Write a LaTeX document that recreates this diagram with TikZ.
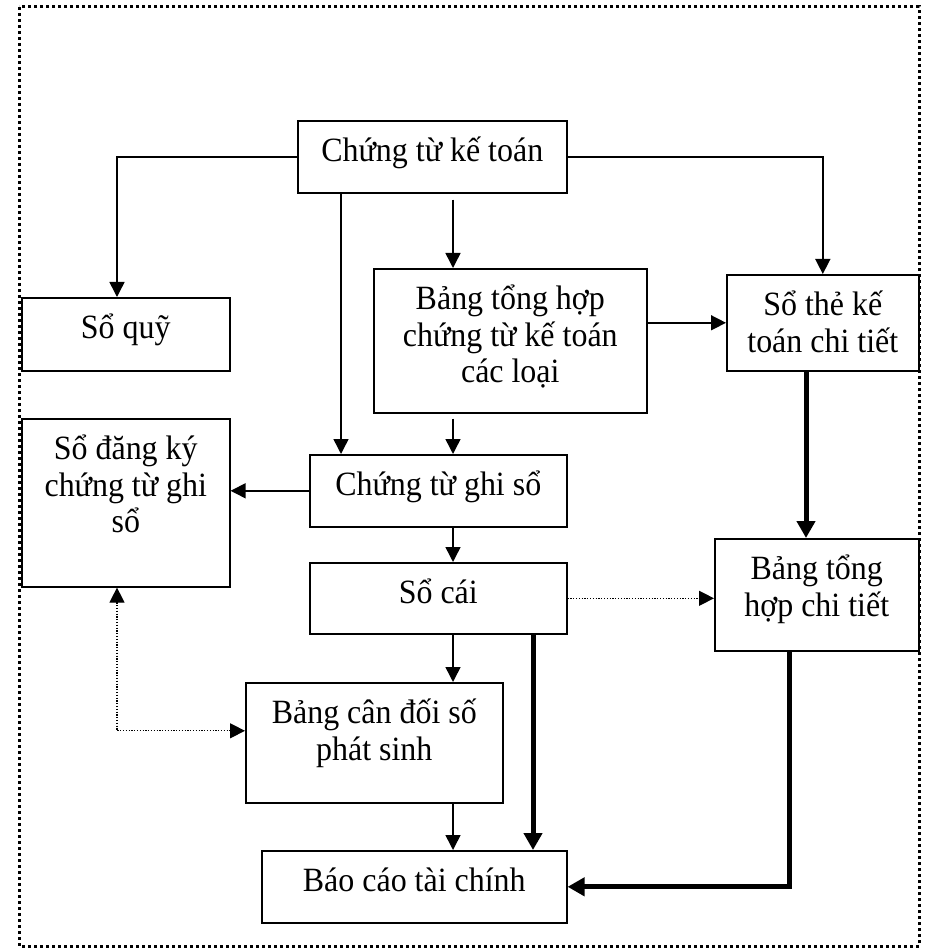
\documentclass[tikz,border=0pt]{standalone}
\usepackage{fontspec}
\setmainfont{Liberation Serif}[FakeStretch=0.94]
\usetikzlibrary{arrows.meta}

\tikzset{every picture/.style={line width=1.5pt}}
\tikzset{
	box/.style={draw, line width=1.6pt, anchor=north west, inner sep=0pt, align=flush center,
		text height=41pt, font=\fontsize{34}{36.5}\selectfont},
	flow/.style={-{Triangle[length=15pt,width=15pt]}, line width=1.5pt},
	heavyflow/.style={-{Triangle[length=17pt,width=18pt]}, line width=5pt},
	dotflow/.style={-{Triangle[length=15pt,width=15pt]}, line width=1.2pt, dash pattern=on 1.2pt off 1.6pt},
}

\begin{document}
\begin{tikzpicture}[x=1pt,y=1pt,yscale=-1,xscale=1]
	\useasboundingbox (0,0) rectangle (926,949);

	%Outer frame
	\draw [line width=3pt, dash pattern=on 3pt off 3pt] (19,7) rectangle (919,946);

	%Boxes
	\node [box, text width=269pt, text depth=31pt] (ctkt) at (297,120) {Chứng từ kế toán};
	\node [box, text width=208pt, text depth=32pt] (soquy) at (21,297) {Sổ quỹ};
	\node [box, text width=273pt, text depth=103pt] (bangth) at (373,268) {Bảng tổng hợp\\chứng từ kế toán\\các loại};
	\node [box, text width=192pt, text depth=55pt] (sothe) at (726,274) {Sổ thẻ kế\\toán chi tiết};
	\node [box, text width=208pt, text depth=127pt] (sodk) at (21,418) {Sổ đăng ký\\chứng từ ghi\\sổ};
	\node [box, text width=257pt, text depth=31pt] (ctgs) at (309,454) {Chứng từ ghi sổ};
	\node [box, text width=257pt, text depth=30pt] (socai) at (309,562) {Sổ cái};
	\node [box, text width=204pt, text depth=71pt] (bangthct) at (714,538) {Bảng tổng\\hợp chi tiết};
	\node [box, text width=257pt, text depth=79pt] (bangcd) at (245,682) {Bảng cân đối số\\phát sinh};
	\node [box, text width=305pt, text depth=31pt] (baocao) at (261,850) {Báo cáo tài chính};

	%Columns of the vertical connectors
	\coordinate (xq) at (117,0);
	\coordinate (xa) at (341,0);
	\coordinate (xb) at (453,0);
	\coordinate (xc) at (533,0);
	\coordinate (xd) at (806,0);
	\coordinate (xe) at (789,0);

	%Thin arrows
	\draw [flow] (ctkt.west) -| (soquy.north -| xq);
	\draw [flow] (ctkt.east) -| (sothe.north);
	\draw [flow] (ctkt.south -| xa) -- (ctgs.north -| xa);
	\draw [flow, shorten <=6pt] (ctkt.south -| xb) -- (bangth.north -| xb);
	\draw [flow, shorten <=5pt] (bangth.south -| xb) -- (ctgs.north -| xb);
	\draw [flow] (sothe.west -| bangth.east) -- (sothe.west);
	\draw [flow] (ctgs.west) -- (ctgs.west -| sodk.east);
	\draw [flow] (ctgs.south -| xb) -- (socai.north -| xb);
	\draw [flow] (socai.south -| xb) -- (bangcd.north -| xb);
	\draw [flow] (bangcd.south -| xb) -- (baocao.north -| xb);

	%Thick arrows
	\draw [heavyflow] (socai.south -| xc) -- (baocao.north -| xc);
	\draw [heavyflow] (sothe.south -| xd) -- (bangthct.north -| xd);
	\draw [heavyflow] (bangthct.south -| xe) |- (baocao.east);

	%Dotted arrows
	\draw [dotflow] (socai.east) -- (socai.east -| bangthct.west);
	\draw [dotflow, {Triangle[length=15pt,width=15pt]}-{Triangle[length=15pt,width=15pt]}] (sodk.south -| xq) |- ([yshift=-12pt]bangcd.west);

\end{tikzpicture}
\end{document}
